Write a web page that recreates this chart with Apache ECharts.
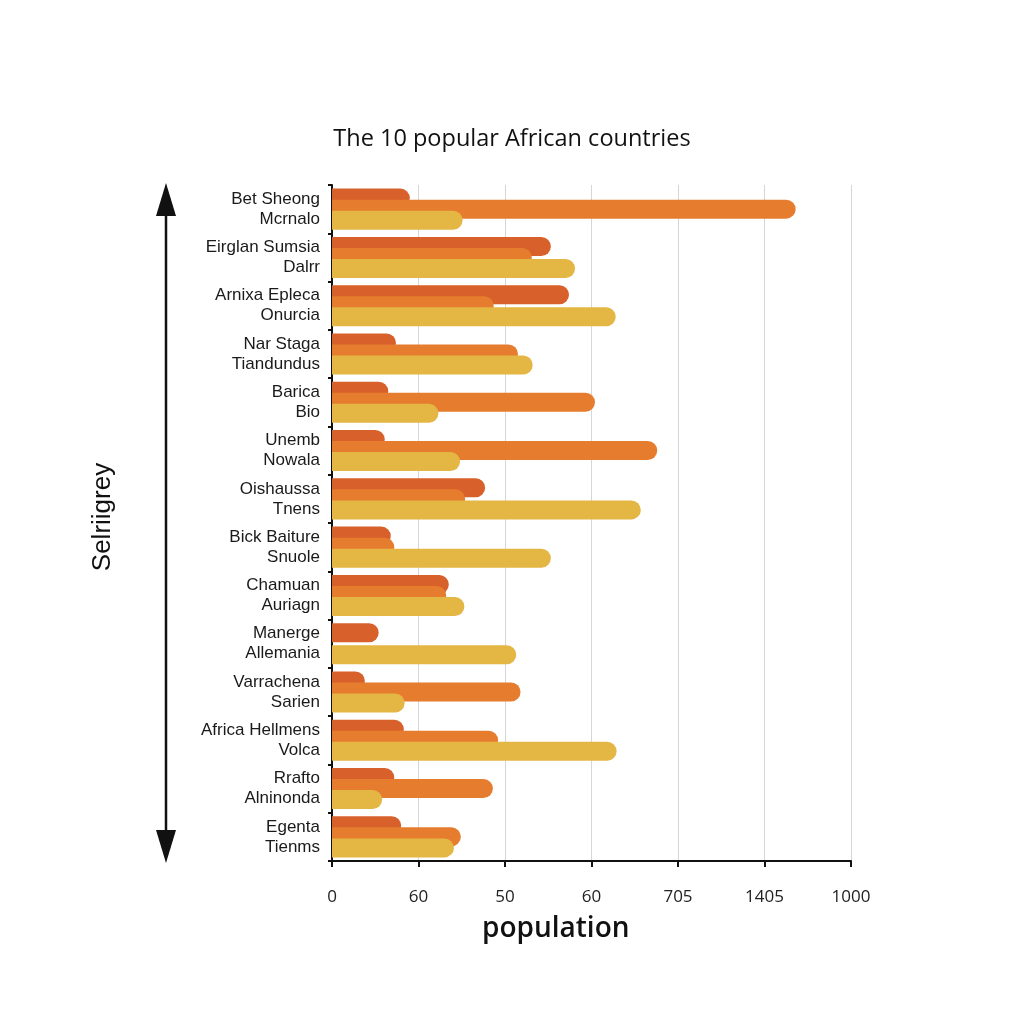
<!DOCTYPE html>
<html>
<head>
<meta charset="utf-8">
<script src="https://cdn.jsdelivr.net/npm/echarts@6/dist/echarts.min.js"></script>
<style>html,body{margin:0;padding:0;background:#ffffff;}#chart{width:1024px;height:1024px;}</style>
</head>
<body>
<div id="chart"></div>
<script>
const categories = [
  "Bet Sheong\nMcrnalo",
  "Eirglan Sumsia\nDalrr",
  "Arnixa Epleca\nOnurcia",
  "Nar Staga\nTiandundus",
  "Barica\nBio",
  "Unemb\nNowala",
  "Oishaussa\nTnens",
  "Bick Baiture\nSnuole",
  "Chamuan\nAuriagn",
  "Manerge\nAllemania",
  "Varrachena\nSarien",
  "Africa Hellmens\nVolca",
  "Rrafto\nAlninonda",
  "Egenta\nTienms"
];
// values in axis tick positions (0..6)
const seriesDark   = [0.90, 2.53, 2.74, 0.74, 0.65, 0.61, 1.77, 0.68, 1.35, 0.54, 0.38, 0.83, 0.72, 0.80];
const seriesOrange = [5.36, 2.31, 1.87, 2.15, 3.04, 3.76, 1.54, 0.72, 1.32, 0,    2.18, 1.92, 1.86, 1.49];
const seriesYellow = [1.51, 2.81, 3.28, 2.32, 1.23, 1.48, 3.57, 2.53, 1.53, 2.13, 0.84, 3.29, 0.58, 1.41];
const xTickLabels = ["0", "60", "50", "60", "705", "1405", "1000"];

const chart = echarts.init(document.getElementById('chart'), null, {renderer: 'canvas'});
const barStyle = (c) => ({color: c, borderRadius: [0, 10, 10, 0]});
const option = {
  backgroundColor: '#ffffff',
  animation: false,
  title: {
    text: 'The 10 popular African countries',
    left: 'center',
    top: 122,
    textStyle: {fontFamily: 'Open Sans', fontSize: 23.5, fontWeight: 'normal', color: '#111111'}
  },
  grid: {left: 332, right: 173, top: 185, bottom: 163, containLabel: false},
  xAxis: {
    type: 'value',
    min: 0, max: 6, interval: 1,
    axisLine: {show: true, lineStyle: {color: '#111111', width: 2}},
    axisTick: {show: true, length: 6, lineStyle: {color: '#111111', width: 2}},
    axisLabel: {
      margin: 28,
      fontFamily: 'Open Sans', fontSize: 17, color: '#222222',
      formatter: (v) => xTickLabels[Math.round(v)] || ''
    },
    splitLine: {show: true, lineStyle: {color: '#d6d6d6', width: 1}}
  },
  yAxis: {
    type: 'category',
    data: categories,
    inverse: true,
    axisLine: {show: true, lineStyle: {color: '#111111', width: 2}},
    axisTick: {show: true, length: 4, lineStyle: {color: '#111111', width: 2}},
    axisLabel: {
      margin: 12,
      fontFamily: 'Liberation Sans', fontSize: 17, color: '#1a1a1a', lineHeight: 20, align: 'right'
    }
  },
  series: [
    {name: 'a', type: 'bar', data: seriesDark, barWidth: 19, barGap: '-42%', itemStyle: barStyle('#d8602a'), z: 2},
    {name: 'b', type: 'bar', data: seriesOrange, barWidth: 19, barGap: '-42%', itemStyle: barStyle('#e67c2e'), z: 3},
    {name: 'c', type: 'bar', data: seriesYellow, barWidth: 19, barGap: '-42%', itemStyle: barStyle('#e4b643'), z: 4}
  ],
  graphic: [
    {type: 'text', left: 482, top: 915, style: {text: 'population', fontFamily: 'Open Sans', fontSize: 28, fontWeight: 600, fill: '#111111'}},
    {type: 'text', x: 103, y: 517, rotation: Math.PI / 2,
     style: {text: 'Selriigrey', fontFamily: 'Liberation Sans', fontSize: 26, fill: '#111111', align: 'center', verticalAlign: 'middle'}},
    {type: 'line', shape: {x1: 166, y1: 205, x2: 166, y2: 840}, style: {stroke: '#111111', lineWidth: 2.5}},
    {type: 'polygon', shape: {points: [[166, 183], [156, 216], [176, 216]]}, style: {fill: '#111111'}},
    {type: 'polygon', shape: {points: [[166, 863], [156, 830], [176, 830]]}, style: {fill: '#111111'}}
  ]
};
chart.setOption(option);
</script>
</body>
</html>
